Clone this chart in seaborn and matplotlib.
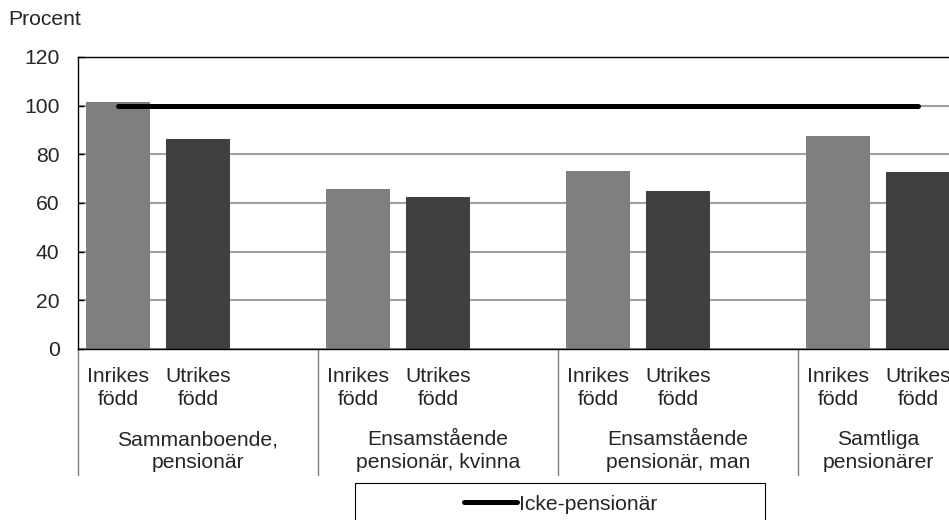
import matplotlib
matplotlib.use('Agg')
import matplotlib.pyplot as plt
import matplotlib.patches as mpatches
from matplotlib.lines import Line2D
from matplotlib.transforms import blended_transform_factory
import seaborn as sns
import pandas as pd

# --- data ---
groups = ['Sammanboende,\npensionär', 'Ensamstående\npensionär, kvinna',
          'Ensamstående\npensionär, man', 'Samtliga\npensionärer']
origins = ['Inrikes\nfödd', 'Utrikes\nfödd']
inrikes = [101.6, 65.8, 73.3, 87.4]
utrikes = [86.4, 62.6, 65.0, 72.8]
icke_pensionar = 100
yticks = [0, 20, 40, 60, 80, 100, 120]

# long table + category order with an empty slot after each group (not the last)
rows = []
order = []
for i, g in enumerate(groups):
    for o, vals in zip(origins, [inrikes, utrikes]):
        key = f'{i}|{o}'
        rows.append({'slot': key, 'origin': o, 'value': vals[i], 'group': g})
        order.append(key)
    if i < len(groups) - 1:
        order.append(f'gap{i}')
df = pd.DataFrame(rows)

sns.set_style('white')
plt.rcParams['font.family'] = ['Liberation Sans', 'DejaVu Sans']
fs = 15.2

W, H = 949, 520
def fy(px):
    return 1 - px / H

fig = plt.figure(figsize=(W / 100, H / 100), dpi=100)
ax = fig.add_axes([78 / W, fy(349), 880 / W, (349 - 57) / H])

ax.yaxis.grid(True, color='#a0a0a0', lw=1.5, zorder=0)
ax.set_axisbelow(True)

sns.barplot(data=df, x='slot', y='value', hue='origin', order=order,
            palette={origins[0]: '#7f7f7f', origins[1]: '#404040'},
            dodge=False, width=0.8, saturation=1, linewidth=0,
            legend=False, ax=ax, zorder=2)

# Icke-pensionär reference line across all categories
ax.plot([0, len(order) - 1], [icke_pensionar, icke_pensionar], color='black',
        lw=3.6, solid_capstyle='round', zorder=4)

ax.set_xlim(-0.5, len(order) - 0.5)
ax.set_ylim(0, 120)
ax.set_yticks(yticks)
ax.set_xticks([])
ax.set_xlabel('')
ax.set_ylabel('')
ax.tick_params(axis='y', direction='in', length=4.3, width=1, color='black',
               labelsize=fs, pad=13.3, left=True)
for s in ['top', 'left', 'bottom']:
    ax.spines[s].set_visible(True)
    ax.spines[s].set_color('black')
    ax.spines[s].set_linewidth(1)
ax.spines['right'].set_visible(False)

fig.text(8 / W, fy(25), 'Procent', fontsize=fs, va='baseline', ha='left')

# multi-level category labels below the axis
trans = blended_transform_factory(ax.transData, fig.transFigure)
for key in order:
    if '|' not in key:
        continue
    x = order.index(key)
    o = key.split('|')[1]
    for line, base in zip(o.split('\n'), [382, 405]):
        ax.text(x, fy(base), line, transform=trans, ha='center',
                va='baseline', fontsize=fs)

bounds = [-0.5]
for i, g in enumerate(groups):
    xs = [order.index(f'{i}|{o}') for o in origins]
    if i < len(groups) - 1:
        center = xs[0] + 1
        bounds.append(xs[0] + 2.5)
    else:
        center = xs[0] + 0.5
    for line, base in zip(g.split('\n'), [445, 468]):
        ax.text(center, fy(base), line, transform=trans, ha='center',
                va='baseline', fontsize=fs)

for b in bounds:
    ax.plot([b, b], [fy(349), fy(475)], transform=trans, clip_on=False,
            color='#7f7f7f', lw=1)

# legend in a box that is cut by the bottom edge
box = mpatches.Rectangle((355 / W, fy(540)), 410 / W, (540 - 483) / H,
                         transform=fig.transFigure, fill=False,
                         ec='black', lw=0.8, clip_on=False)
fig.add_artist(box)
handle = Line2D([], [], color='black', lw=3.6, solid_capstyle='round')
fig.legend(handles=[handle], labels=['Icke-pensionär'], loc='center',
           bbox_to_anchor=(561 / W, fy(504)), frameon=False,
           handlelength=2.5, handletextpad=0.1, fontsize=fs,
           borderpad=0, borderaxespad=0)

fig.savefig('out.png', dpi=100)
